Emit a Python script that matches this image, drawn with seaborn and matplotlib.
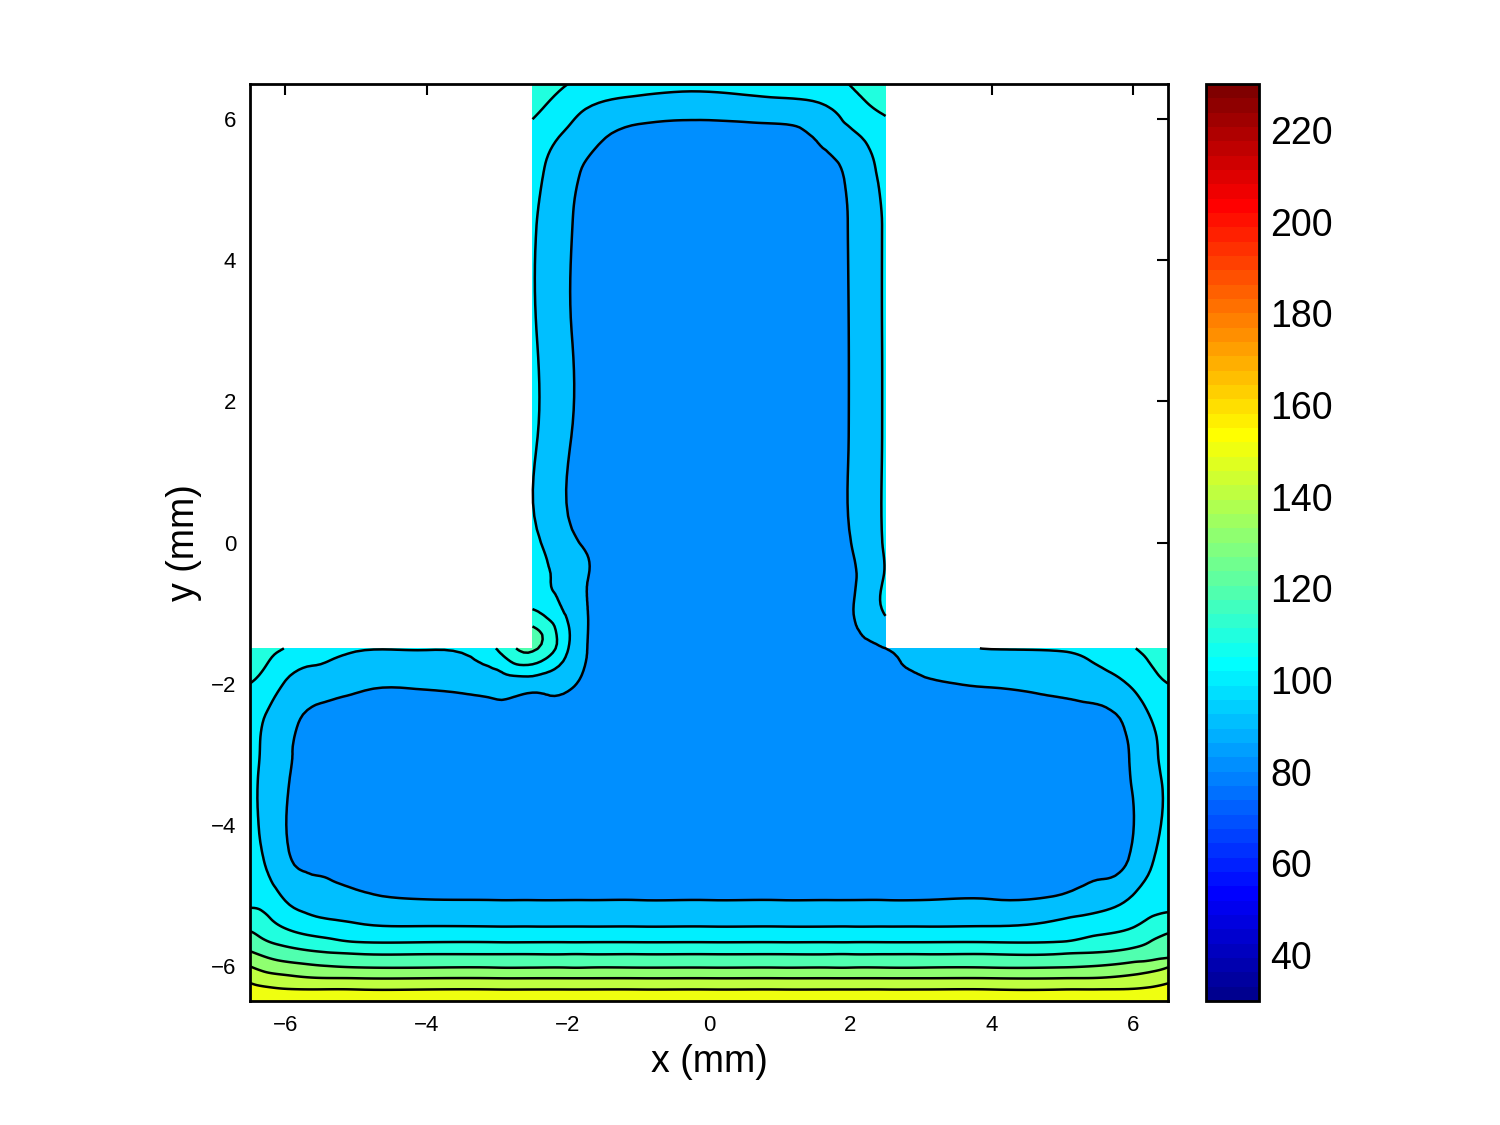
import numpy as np
import matplotlib
matplotlib.use("Agg")
import matplotlib.pyplot as plt
import matplotlib.tri as mtri
from matplotlib.colors import ListedColormap, Normalize
from matplotlib.cm import ScalarMappable
import seaborn as sns

# ---------------- data (temperatures) ----------------
x_nodes = [-6.5, -6.25, -6.0, -5.5, -5.0, -4.0, -3.0, -2.5, -2.0, -1.75, -1.0, 0.0,
           1.0, 1.75, 2.0, 2.5, 3.0, 4.0, 5.0, 5.5, 6.0, 6.25, 6.5]
stem_x = [-2.5, -2.0, -1.75, -1.0, 0.0, 1.0, 1.75, 2.0, 2.5]

bar_y = [-6.5, -6.34, -6.18, -6.03, -5.84, -5.67, -5.45, -5.08, -4.5, -3.5, -3.0, -2.5, -2.0, -1.5]
bar_temps = [
    [155, 156, 157, 158, 158, 158, 158, 158, 158, 158, 158, 158, 158, 158, 158, 158, 158, 158, 158, 158, 157, 156, 155],
    [152.5, 151.5, 150.6, 150.3, 150.2, 150.2, 150.2, 150.2, 150.2, 150.2, 150.2, 150.2, 150.2, 150.2, 150.2, 150.2, 150.2, 150.2, 150.2, 150.3, 150.6, 151.5, 152.5],
    [147.7, 144.4, 142.7, 140.5, 140.2, 140.2, 140.2, 140.2, 140.2, 140.2, 140.2, 140.2, 140.2, 140.2, 140.2, 140.2, 140.2, 140.2, 140.2, 140.5, 142.7, 144.4, 147.5],
    [141, 136.7, 134.6, 131.7, 130.4, 130.2, 130.2, 130.2, 130.2, 130.2, 130.2, 130.2, 130.2, 130.2, 130.2, 130.2, 130.2, 130.2, 130.4, 131.7, 134.6, 136.7, 140.5],
    [132, 128, 125.2, 122, 120.5, 120.2, 120.2, 120.2, 120.2, 120.2, 120.2, 120.2, 120.2, 120.2, 120.2, 120.2, 120.2, 120.2, 120.5, 121.3, 124, 125.3, 126.8],
    [125.4, 120.7, 117.6, 113.5, 110.4, 110.2, 110.2, 110.2, 110.2, 110.2, 110.2, 110.2, 110.2, 110.2, 110.2, 110.2, 110.2, 110.2, 110.6, 114.2, 117.2, 120.3, 122.7],
    [118, 113.7, 109.3, 104.2, 101.6, 100.4, 100.2, 100.2, 100.2, 100.2, 100.2, 100.2, 100.2, 100.2, 100.2, 100.2, 100.2, 100.4, 103, 106, 109.7, 114, 116.8],
    [108, 105.9, 100, 95, 92.7, 90.4, 90.2, 90.2, 90.2, 90.2, 90.2, 90.2, 90.2, 90.2, 90.2, 90.2, 90.2, 90.4, 92.2, 95.6, 101.7, 105.6, 107],
    [104, 98.5, 91.7, 87.5, 85.5, 84.5, 84, 84, 84, 84, 84, 84, 84, 84, 84, 84, 84, 84.5, 85.5, 87.5, 91.4, 98.7, 104],
    [101.8, 96.9, 90.8, 87, 85.5, 84.5, 84, 84, 84, 84, 84, 84, 84, 84, 84, 84, 84, 84.5, 85.5, 87, 90.2, 96.1, 101.5],
    [102.5, 97.6, 91.8, 87.3, 86, 85, 85, 85.3, 85.3, 85.2, 84.5, 84, 84, 84.5, 84.7, 85, 85.3, 85.7, 86.3, 87.3, 91, 97.4, 102.5],
    [103.7, 98.8, 93.5, 87.2, 86, 86, 87.3, 87.6, 87, 86.5, 85, 84.5, 84.5, 85, 85.5, 86, 86.5, 87, 87.3, 87.5, 93.5, 99.8, 104],
    [110, 106, 99.3, 95.1, 92.2, 91.3, 94, 94.5, 91.5, 88.5, 86, 85, 85.5, 86.5, 87, 88.5, 89, 90.7, 92.6, 95.3, 101.5, 106.5, 110],
    [115, 112, 109.7, 103, 100.8, 100.5, 110.5, 122, 100.5, 90.6, 86.5, 85, 85.5, 87, 88, 90, 94, 100.3, 100.8, 103.5, 109.5, 112, 115],
]

stem_y = [-1.0, -0.5, 0.0, 1.5, 3.0, 4.5, 5.25, 5.75, 6.1, 6.5]
stem_temps = [
    [112, 98.4, 90.7, 86, 85, 85.5, 86.8, 89.2, 100.8],
    [106, 95, 90.5, 86, 84.5, 85, 86.3, 88.5, 101],
    [103, 92, 89.2, 85, 84, 84.5, 86.5, 89.8, 101.2],
    [101.7, 90.9, 87.3, 84.5, 83.5, 84.5, 86.8, 90.4, 101.2],
    [101.3, 90.9, 87.3, 84.3, 83.3, 84.3, 86.8, 90.4, 101.2],
    [101.2, 91.1, 87.5, 84.5, 83.6, 84.5, 87, 90.6, 101.2],
    [102.5, 93.6, 88.8, 85, 84, 85, 87.7, 92.5, 102.5],
    [106, 98.2, 94.5, 86.5, 85, 86.5, 94.3, 97.8, 105],
    [111.5, 103.3, 99.2, 94.2, 93, 94.5, 99.3, 103.9, 111],
    [116, 110, 108, 104, 102.3, 104, 108, 110.3, 116],
]

levels = [80, 90, 100, 110, 120, 130, 140, 150, 160]
cbar_ticks = [40, 60, 80, 100, 120, 140, 160, 180, 200, 220]
clim = (30, 230)
ticks_mm = [-6, -4, -2, 0, 2, 4, 6]

# ---------------- assemble grid ----------------
xg = np.array(x_nodes)
yg = np.array(bar_y + stem_y)
Z = np.full((len(yg), len(xg)), np.nan)
Z[:len(bar_y), :] = np.array(bar_temps, dtype=float)
cols = [x_nodes.index(v) for v in stem_x]
for i, row in enumerate(stem_temps):
    Z[len(bar_y) + i, cols] = row

# triangulation of the T-shaped set of sampled nodes
ny, nx = Z.shape
idx = -np.ones(Z.shape, dtype=int)
px, py, pz = [], [], []
for j in range(ny):
    for i in range(nx):
        if np.isfinite(Z[j, i]):
            idx[j, i] = len(px)
            px.append(xg[i]); py.append(yg[j]); pz.append(Z[j, i])
tris = []
for j in range(ny - 1):
    for i in range(nx - 1):
        a, b, c, d = idx[j, i], idx[j, i + 1], idx[j + 1, i + 1], idx[j + 1, i]
        if min(a, b, c, d) >= 0:
            tris.append([a, b, c])
            tris.append([a, c, d])
tri = mtri.Triangulation(np.array(px), np.array(py), np.array(tris))
pz = np.array(pz)
interp = mtri.CubicTriInterpolator(tri, pz, kind='min_E')
refiner = mtri.UniformTriRefiner(tri)
tri_r, z_r = refiner.refine_field(pz, triinterpolator=interp, subdiv=3)
z_r = np.clip(z_r, levels[0] + 0.05, levels[-1] - 0.05)


def matlab_jet(m=64):
    n = int(np.ceil(m / 4))
    u = np.r_[np.arange(1, n + 1) / n, np.ones(n - 1), np.arange(n, 0, -1) / n]
    g = int(np.ceil(n / 2)) - int(m % 4 == 1) + np.arange(1, len(u) + 1)
    r = g + n
    b = g - n
    J = np.zeros((m, 3))
    for ch, ix in ((0, r), (1, g), (2, b)):
        ok = (ix >= 1) & (ix <= m)
        J[ix[ok] - 1, ch] = u[ok]
    return J


jet = matlab_jet(64)
cmap = ListedColormap(jet)
norm = Normalize(*clim)
band_colors = [jet[min(int((lv - clim[0]) / (clim[1] - clim[0]) * 64), 63)] for lv in levels[:-1]]

# ---------------- figure ----------------
sns.set_style("white")
plt.rcParams['font.family'] = ['Liberation Sans', 'DejaVu Sans']
plt.rcParams['text.color'] = 'black'
plt.rcParams['axes.labelcolor'] = 'black'
plt.rcParams['xtick.color'] = 'black'
plt.rcParams['ytick.color'] = 'black'

fig = plt.figure(figsize=(15, 11.25), dpi=100)
ax = fig.add_axes([0.1667, 0.1102, 0.612, 0.8151])

ax.tricontourf(tri_r, z_r, levels=levels, colors=band_colors)
ax.tricontour(tri_r, z_r, levels=levels[1:-1], colors='k', linewidths=1.8)

ax.set_xlim(-6.5, 6.5)
ax.set_ylim(-6.5, 6.5)
ax.set_xticks(ticks_mm)
ax.set_yticks(ticks_mm)
ax.tick_params(direction='in', top=True, right=True, length=8, width=1.5,
               labelsize=16, pad=10, colors='black')
for s in ax.spines.values():
    s.set_linewidth(2)
    s.set_color('black')
ax.set_xlabel('x (mm)', fontsize=27, labelpad=6)
ax.set_ylabel('y (mm)', fontsize=27, labelpad=6)

cax = fig.add_axes([0.804, 0.1102, 0.0353, 0.8151])
sm = ScalarMappable(norm=norm, cmap=cmap)
cb = fig.colorbar(sm, cax=cax, ticks=cbar_ticks)
cb.outline.set_linewidth(2)
cb.outline.set_edgecolor('black')
cax.tick_params(direction='in', left=True, right=True, length=8, width=1.5,
                labelsize=27, pad=8, colors='black')

fig.savefig('out.png', dpi=100, facecolor='white')
